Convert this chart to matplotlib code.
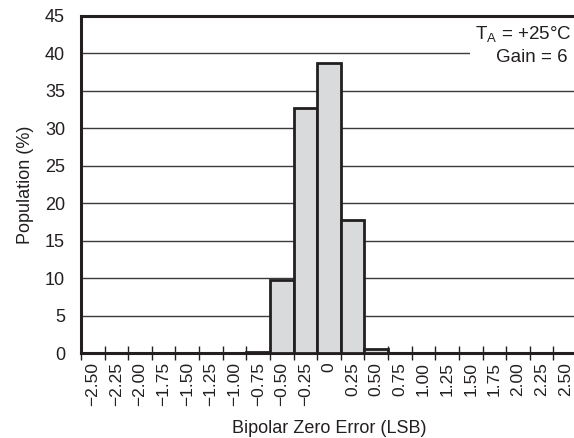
import matplotlib.pyplot as plt
from matplotlib.patches import Rectangle
import numpy as np

plt.rcParams['font.family'] = ['Liberation Sans', 'DejaVu Sans']

# bins (LSB) and population (%)
bins = [-2.50, -2.25, -2.00, -1.75, -1.50, -1.25, -1.00, -0.75, -0.50, -0.25,
        0.00, 0.25, 0.50, 0.75, 1.00, 1.25, 1.50, 1.75, 2.00, 2.25, 2.50]
population = [0, 0, 0, 0, 0, 0, 0, 0.2, 9.8, 32.7, 38.7, 17.7, 0.5,
              0, 0, 0, 0, 0, 0, 0, 0]
tick_labels = ['\u22122.50', '\u22122.25', '\u22122.00', '\u22121.75', '\u22121.50',
               '\u22121.25', '\u22121.00', '\u22120.75', '\u22120.50', '\u22120.25',
               '0', '0.25', '0.50', '0.75', '1.00', '1.25', '1.50', '1.75',
               '2.00', '2.25', '2.50']

W, H = 574, 438
fig = plt.figure(figsize=(W / 100, H / 100), dpi=100)
# axes runs a little past the right edge of the picture (cropped like the reference)
ax = fig.add_axes([81 / W, 1 - 353 / H, (577 - 81) / W, (353 - 16) / H])

ink = '#231f20'
x = np.array(bins)
pop = np.array(population)
nz = pop > 0
ax.bar(x[nz], pop[nz], width=0.25, color='#d9dadc',
       edgecolor=ink, linewidth=2, zorder=3)

ax.set_xlim(-2.625, 2.625)
ax.set_ylim(0, 45)
ax.set_yticks(range(0, 46, 5))
ax.set_xticks(x)
ax.set_xticklabels(tick_labels, rotation=90, fontsize=12.5, color=ink)
ax.set_xticks(np.arange(-2.625, 2.63, 0.25), minor=True)
ax.tick_params(axis='x', which='major', length=0, pad=6.5)
ax.tick_params(axis='x', which='minor', length=10, direction='inout', width=1, color=ink)
ax.tick_params(axis='y', length=0, pad=11.5, labelsize=13, labelcolor=ink)

ax.grid(axis='y', color='#3a3a3a', linewidth=1, zorder=1)
ax.set_axisbelow(True)

for s in ['left', 'bottom', 'top']:
    ax.spines[s].set_linewidth(2.2)
    ax.spines[s].set_color(ink)
ax.spines['right'].set_visible(False)

ax.set_ylabel('Population (%)', fontsize=13, color=ink, labelpad=8)
ax.set_xlabel('Bipolar Zero Error (LSB)', fontsize=13, color=ink, labelpad=10)

# white box behind the conditions note
fig.add_artist(Rectangle((470 / W, 1 - 70 / H), (W - 470) / W, 50 / H,
                         transform=fig.transFigure, facecolor='white',
                         edgecolor='none', zorder=2))
fig.text(571 / W, 1 - 35 / H, 'T$_\\mathregular{A}$ = +25°C',
         fontsize=13.5, color=ink, va='center', ha='right', zorder=4)
fig.text(568 / W, 1 - 58 / H, 'Gain = 6',
         fontsize=13.5, color=ink, va='center', ha='right', zorder=4)

fig.savefig('out.png', dpi=100)
